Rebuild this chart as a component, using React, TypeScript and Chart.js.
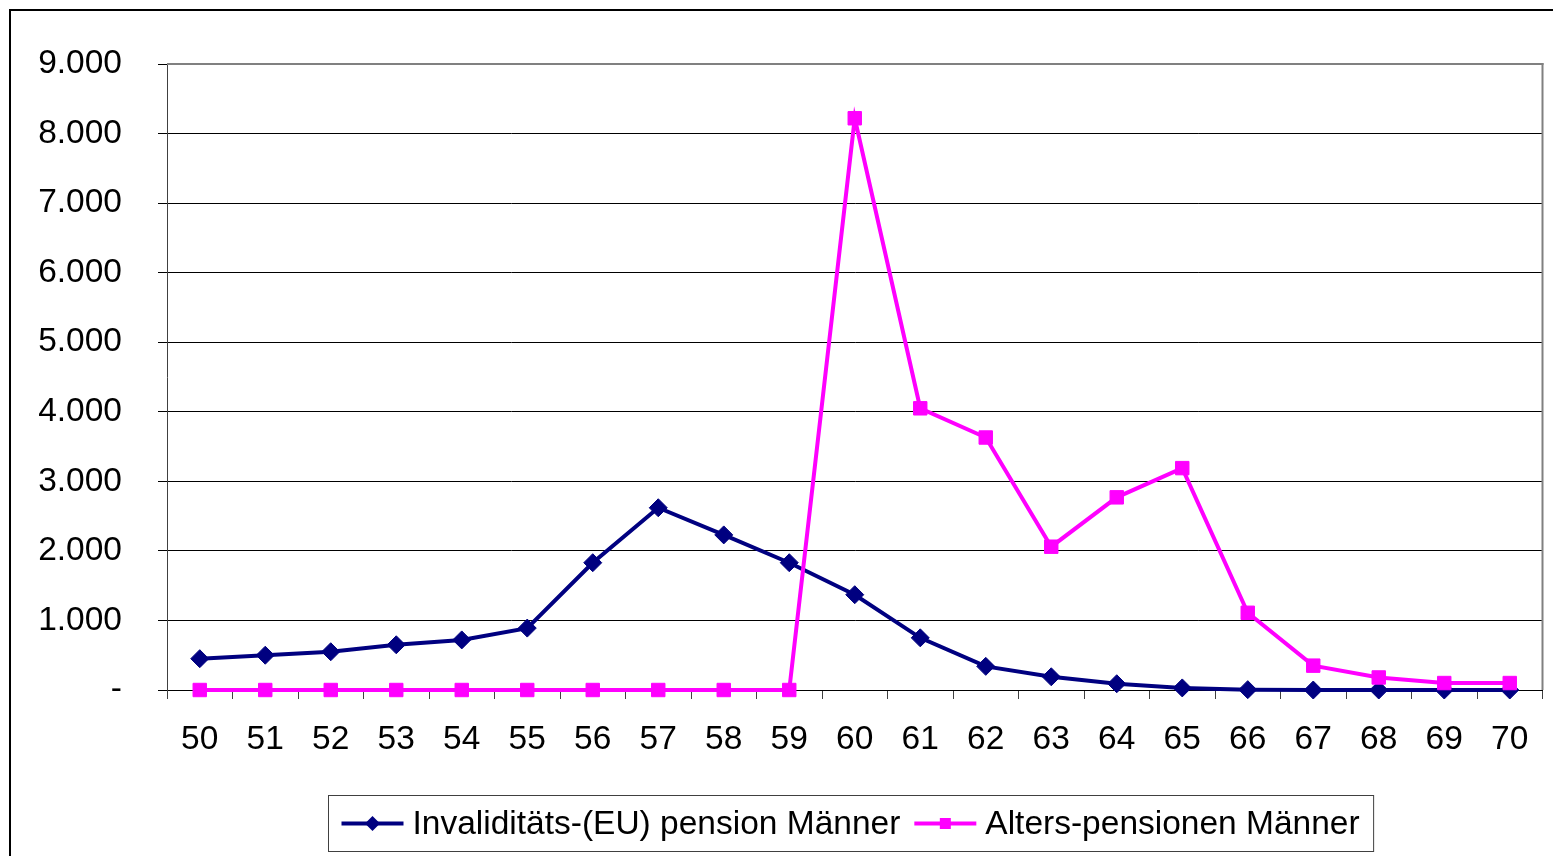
import React, { useEffect, useRef } from "react";
import { Chart, registerables } from "chart.js";

Chart.register(...registerables);

const ages = ["50","51","52","53","54","55","56","57","58","59","60","61","62","63","64","65","66","67","68","69","70"];
const invaliditaet = [450, 500, 550, 650, 720, 890, 1830, 2620, 2230, 1830, 1370, 750, 340, 190, 90, 30, 5, 0, 0, 0, 0];
const alterspension = [0, 0, 0, 0, 0, 0, 0, 0, 0, 0, 8220, 4050, 3630, 2060, 2770, 3190, 1110, 350, 180, 100, 100];
const yTicks = [0, 1000, 2000, 3000, 4000, 5000, 6000, 7000, 8000, 9000];
const seriesNames = ["Invaliditäts-(EU) pension Männer", "Alters-pensionen Männer"];

const FONT = "'Liberation Sans', Arial, sans-serif";
const FS = 33.5;
const BLUE = "#000080";
const PINK = "#FF00FF";

function fmt(v: number): string {
  if (v === 0) return "-";
  const s = String(Math.round(v));
  return s.replace(/\B(?=(\d{3})+(?!\d))/g, ".");
}

const frame = {
  id: "frame",
  afterDraw(chart: any) {
    const { ctx, chartArea } = chart;
    ctx.save();
    ctx.strokeStyle = "#808080";
    ctx.lineWidth = 2;
    ctx.beginPath();
    ctx.moveTo(chartArea.right, chartArea.top - 1);
    ctx.lineTo(chartArea.right, chartArea.bottom);
    ctx.stroke();
    ctx.beginPath();
    ctx.moveTo(chartArea.left, chartArea.top);
    ctx.lineTo(chartArea.right + 1, chartArea.top);
    ctx.stroke();

    // legend
    ctx.font = `${FS}px ${FONT}`;
    const w0 = ctx.measureText(seriesNames[0]).width;
    const w1 = ctx.measureText(seriesNames[1]).width;
    const padL = 13, lineLen = 62, gapT = 9, gapItem = 14, padR = 14;
    const boxW = padL + lineLen + gapT + w0 + gapItem + lineLen + gapT + w1 + padR;
    const boxH = 56;
    const cx = (chartArea.left + chartArea.right) / 2 - 4;
    const bx = Math.round(cx - boxW / 2) + 0.5;
    const by = Math.round(chartArea.bottom + 105) + 0.5;
    ctx.fillStyle = "#fff";
    ctx.fillRect(bx, by, boxW, boxH);
    ctx.strokeStyle = "#404040";
    ctx.lineWidth = 1;
    ctx.strokeRect(bx, by, boxW, boxH);
    const cy = by + boxH / 2;
    let x = bx + padL;
    const drawItem = (color: string, style: string, text: string, tw: number) => {
      ctx.strokeStyle = color;
      ctx.lineWidth = 4;
      ctx.beginPath();
      ctx.moveTo(x, cy);
      ctx.lineTo(x + lineLen, cy);
      ctx.stroke();
      const mx = x + lineLen / 2;
      ctx.fillStyle = color;
      ctx.beginPath();
      if (style === "diamond") {
        const r = 7.5;
        ctx.moveTo(mx, cy - r);
        ctx.lineTo(mx + r, cy);
        ctx.lineTo(mx, cy + r);
        ctx.lineTo(mx - r, cy);
        ctx.closePath();
      } else {
        const h = 5.5;
        ctx.rect(mx - h, cy - h, 2 * h, 2 * h);
      }
      ctx.fill();
      x += lineLen + gapT;
      ctx.fillStyle = "#000";
      ctx.textAlign = "left";
      ctx.textBaseline = "middle";
      ctx.font = `${FS}px ${FONT}`;
      ctx.fillText(text, x, cy + 1);
      x += tw + gapItem;
    };
    drawItem(BLUE, "diamond", seriesNames[0], w0);
    drawItem(PINK, "square", seriesNames[1], w1);
    ctx.restore();
  },
};

export default function App() {
  const ref = useRef<HTMLCanvasElement | null>(null);
  useEffect(() => {
    if (!ref.current) return;
    const chart = new Chart(ref.current, {
      type: "line",
      data: {
        labels: ages,
        datasets: [
          {
            label: seriesNames[0],
            data: invaliditaet,
            borderColor: BLUE,
            backgroundColor: BLUE,
            borderWidth: 4,
            pointStyle: "rectRot",
            pointRadius: 9,
            pointBorderWidth: 1,
            pointBackgroundColor: BLUE,
            pointBorderColor: BLUE,
            tension: 0,
            clip: false,
            order: 1,
          },
          {
            label: seriesNames[1],
            data: alterspension,
            borderColor: PINK,
            backgroundColor: PINK,
            borderWidth: 4,
            pointStyle: "rect",
            pointRadius: 9.5,
            pointBorderWidth: 1,
            pointBackgroundColor: PINK,
            pointBorderColor: PINK,
            tension: 0,
            clip: false,
            order: 0,
          },
        ],
      },
      options: {
        responsive: false,
        animation: false,
        layout: { padding: { left: 0, top: 53, right: 6, bottom: 76 } },
        plugins: { legend: { display: false }, tooltip: { enabled: false } },
        scales: {
          x: {
            offset: true,
            grid: {
              offset: true,
              drawOnChartArea: false,
              drawTicks: true,
              tickLength: 9,
              color: "#404040",
            },
            border: { color: "#000", width: 1 },
            ticks: {
              color: "#000",
              font: { family: FONT, size: FS },
              padding: 21,
              maxRotation: 0,
              autoSkip: false,
            },
            afterFit: (s: any) => { s.height = 90; },
          },
          y: {
            min: 0,
            max: 9000,
            afterBuildTicks: (s: any) => { s.ticks = yTicks.map((v) => ({ value: v })); },
            grid: {
              color: (c: any) => (c.tick && c.tick.value === 9000 ? "#808080" : "#000"),
              lineWidth: 1,
              tickLength: 9,
              tickColor: "#000",
            },
            border: { color: "#404040", width: 1 },
            ticks: {
              color: "#000",
              font: { family: FONT, size: FS },
              padding: 36,
              callback: (v: any) => fmt(Number(v)),
            },
            afterFit: (s: any) => {
              s.width = 156;
              s.paddingTop = 20;
              s.paddingBottom = 20;
            },
          },
        },
      },
      plugins: [frame],
    });
    return () => chart.destroy();
  }, []);
  return (
    <div
      style={{
        position: "fixed",
        left: 9,
        top: 9,
        width: 1600,
        height: 900,
        borderTop: "2px solid #000",
        borderLeft: "2px solid #000",
        background: "#fff",
      }}
    >
      <canvas ref={ref} width={1542} height={845} style={{ display: "block", width: 1542, height: 845 }} />
    </div>
  );
}
